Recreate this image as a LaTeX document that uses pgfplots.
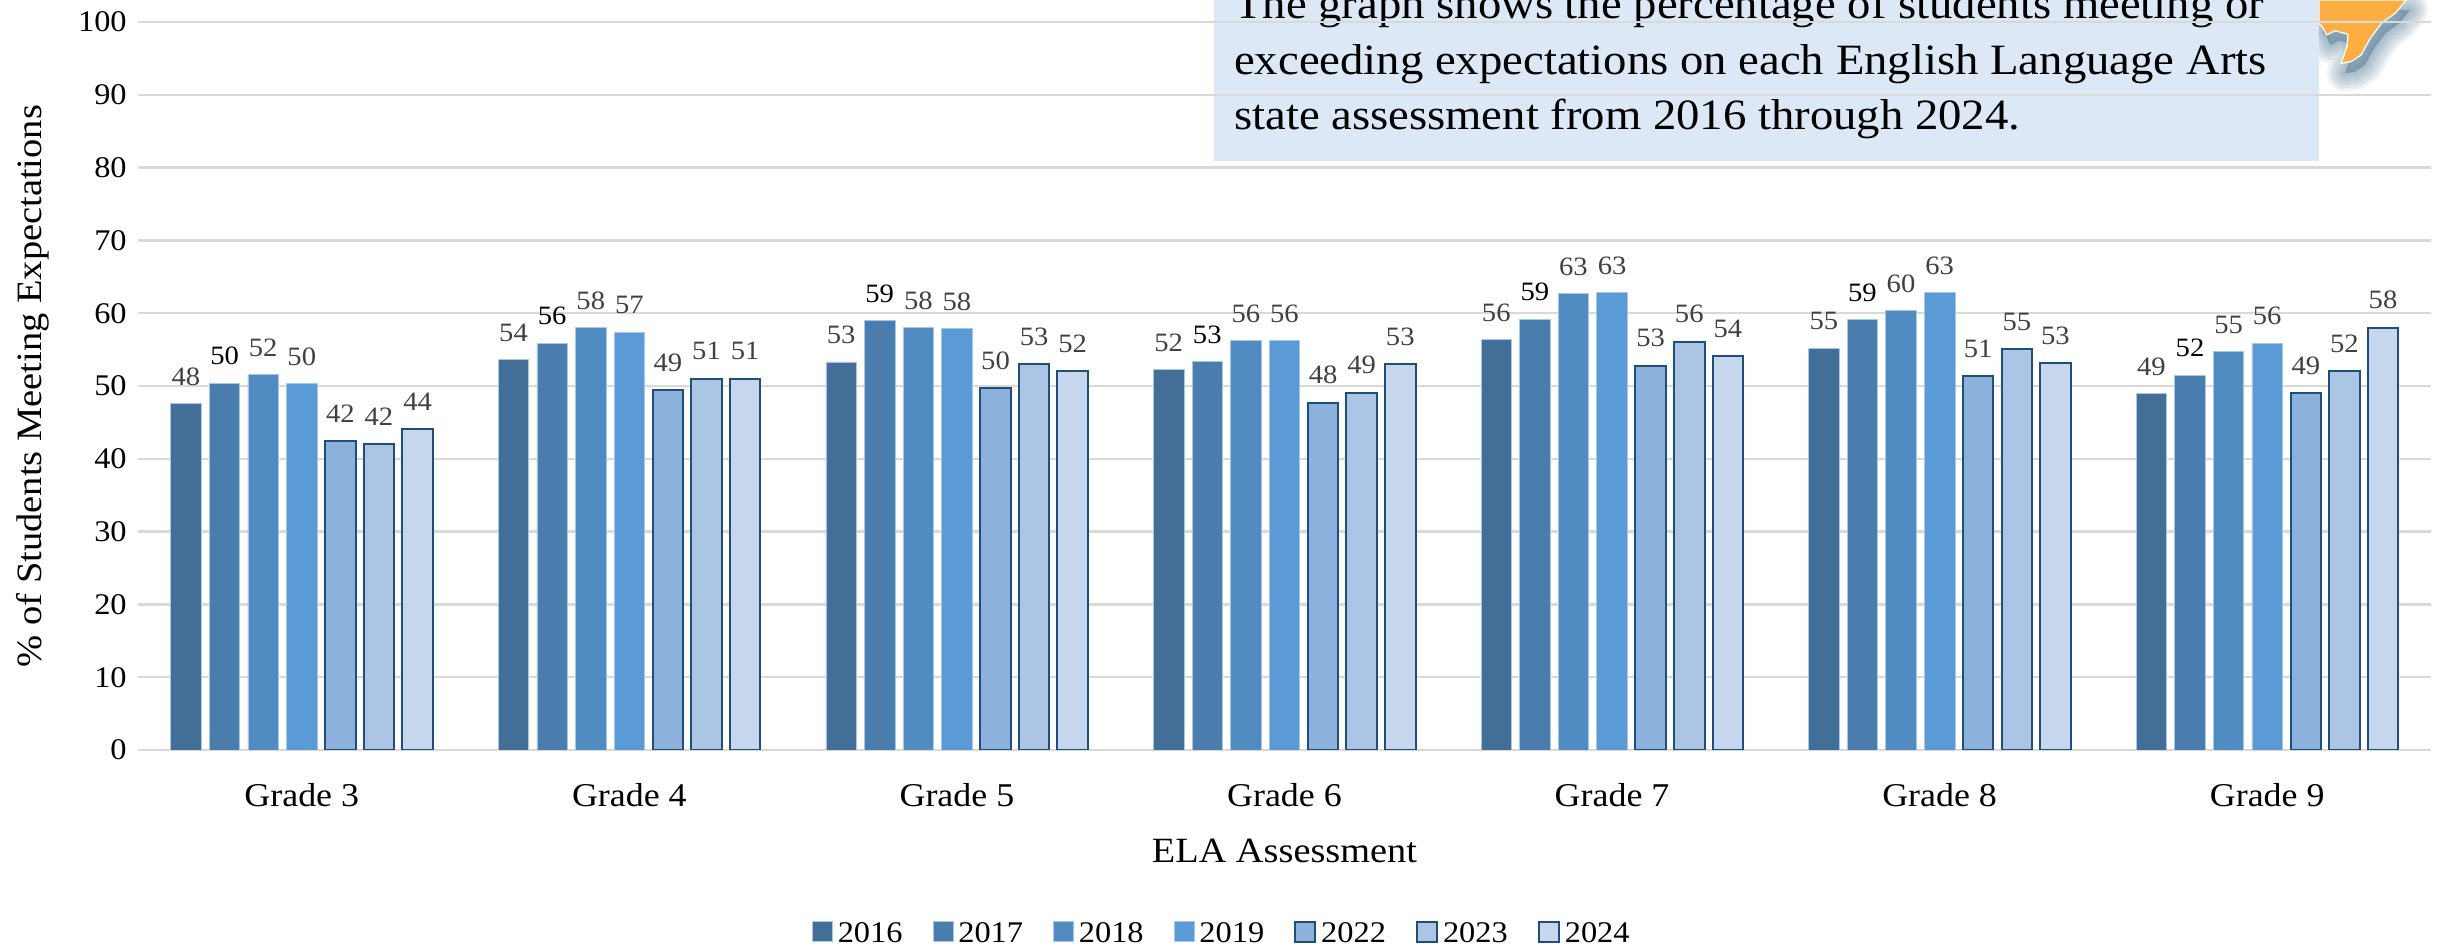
\documentclass[border=0pt]{standalone}
\usepackage{pgfplots}
\usepackage{pgfplotstable}
\usepackage{fontspec}
\setmainfont[FakeStretch=1.08]{Liberation Serif}
\pgfplotsset{compat=1.18}
\definecolor{cA}{HTML}{426E97}
\definecolor{cB}{HTML}{4A7DAE}
\definecolor{cC}{HTML}{508BC2}
\definecolor{cD}{HTML}{5B9BD5}
\definecolor{cE}{HTML}{8DB1DD}
\definecolor{cF}{HTML}{ACC5E5}
\definecolor{cG}{HTML}{C6D6ED}
\definecolor{edgeD}{HTML}{1F4E79}
\definecolor{edgeL}{HTML}{A9C6E6}
\definecolor{gridc}{HTML}{D9D9D9}
\definecolor{boxc}{HTML}{DCE8F5}
\definecolor{lab}{HTML}{404040}
\definecolor{orng}{HTML}{FDAE40}
\definecolor{shad}{HTML}{3F6A88}
\pgfplotstableread{
g  a b c d e f h
0 47.6 50.4 51.6 50.3 42.4 42.0 44.05
1 53.6 55.9 58.0 57.4 49.4 51.0 51.0
2 53.3 59.0 58.0 57.9 49.7 53.0 52.0
3 52.3 53.4 56.2 56.2 47.7 49.1 53.0
4 56.4 59.2 62.7 62.8 52.8 56.1 54.1
5 55.2 59.1 60.4 62.8 51.4 55.1 53.1
6 49.0 51.5 54.7 55.9 49.0 52.0 58.0
}\ela
\begin{document}
\begin{tikzpicture}
\useasboundingbox (0,0) rectangle (974.8pt,379.6pt);
\begin{scope}[x=0.4pt,y=0.4pt]
\def\txshape{(2406,949) -- (2396,936.3) -- (2382,926.3) -- (2370.5,911) -- (2361,894) -- (2351,887.3) -- (2341,885.7) -- (2347,902.3) -- (2348,914.7) -- (2335,918.3) -- (2326.5,914) -- (2323,921) -- (2319,925.7) -- (2319,949) -- cycle}
\foreach \w in {36,30,24,18,12,6}{
  \begin{scope}[shift={(4,-10)}]
  \fill[shad,opacity=0.09,draw=shad,line width=\w*0.4pt,line join=round] \txshape;
  \end{scope}
}
\fill[orng,draw=white,line width=0.5pt] \txshape;
\fill[boxc] (1214.5,788) rectangle (2319,949);
\node[anchor=base west,inner sep=0pt,font=\fontsize{17.3}{20}\selectfont] at (1233.7,930) {The graph shows the percentage of students meeting or};
\node[anchor=base west,inner sep=0pt,font=\fontsize{17.3}{20}\selectfont] at (1233.7,874) {exceeding expectations on each English Language Arts};
\node[anchor=base west,inner sep=0pt,font=\fontsize{17.3}{20}\selectfont] at (1233.7,819) {state assessment from 2016 through 2024.};
\end{scope}
\begin{axis}[
  at={(55.2pt,79.6pt)},anchor=south west,
  scale only axis,width=917.2pt,height=291.2pt,
  xmin=-0.5,xmax=6.5,ymin=0,ymax=100,
  ybar,bar width=12.2pt,
  xtick={0,...,6},
  xticklabels={Grade 3,Grade 4,Grade 5,Grade 6,Grade 7,Grade 8,Grade 9},
  ytick={0,10,...,100},
  /pgf/number format/assume math mode=true,
  major tick length=0pt,
  axis x line*=bottom,axis y line*=left,
  x axis line style={gridc,line width=1pt,-},
  y axis line style={draw=none},
  ymajorgrids,
  grid style={gridc,line width=1pt},
  tick label style={font=\fontsize{12}{14}\selectfont},
  yticklabel style={xshift=-1pt},
  xticklabel style={yshift=-10pt,font=\fontsize{13.3}{15}\selectfont},
  xlabel={ELA Assessment},
  ylabel={\% of Students Meeting Expectations},
  xlabel style={yshift=-6pt,font=\fontsize{14.2}{16}\selectfont},
  ylabel style={yshift=4.5pt,font=\fontsize{14.25}{16}\selectfont},
  nodes near coords={\pgfmathprintnumber[fixed,precision=0]{\pgfplotspointmeta}},
  every node near coord/.append style={font=\fontsize{10.6}{12}\selectfont,text=lab,inner sep=1.5pt,yshift=5.5pt},
  legend columns=7,
  legend style={at={(269.6pt,-80.4pt)},anchor=south west,draw=none,fill=none,inner sep=0pt,outer sep=0pt,
    font=\fontsize{12}{14}\selectfont,/tikz/every even column/.append style={column sep=10pt}},
  legend image code/.code={\draw[#1,bar shift=0pt] (0pt,-3pt) rectangle (8pt,5pt);},
]
\addplot[fill=cA,draw=edgeL,line width=0.3pt,bar shift=-46.32pt] table[x=g,y=a]{\ela};
\addplot[fill=cB,draw=edgeL,line width=0.3pt,bar shift=-30.88pt,every node near coord/.append style={text=black}] table[x=g,y=b]{\ela};
\addplot[fill=cC,draw=edgeL,line width=0.3pt,bar shift=-15.44pt] table[x=g,y=c]{\ela};
\addplot[fill=cD,draw=edgeL,line width=0.3pt,bar shift=0pt] table[x=g,y=d]{\ela};
\addplot[fill=cE,draw=edgeD,line width=0.8pt,bar shift=15.44pt] table[x=g,y=e]{\ela};
\addplot[fill=cF,draw=edgeD,line width=0.8pt,bar shift=30.88pt] table[x=g,y=f]{\ela};
\addplot[fill=cG,draw=edgeD,line width=0.8pt,bar shift=46.32pt] table[x=g,y=h]{\ela};
\legend{2016,2017,2018,2019,2022,2023,2024}
\end{axis}
\end{tikzpicture}
\end{document}
